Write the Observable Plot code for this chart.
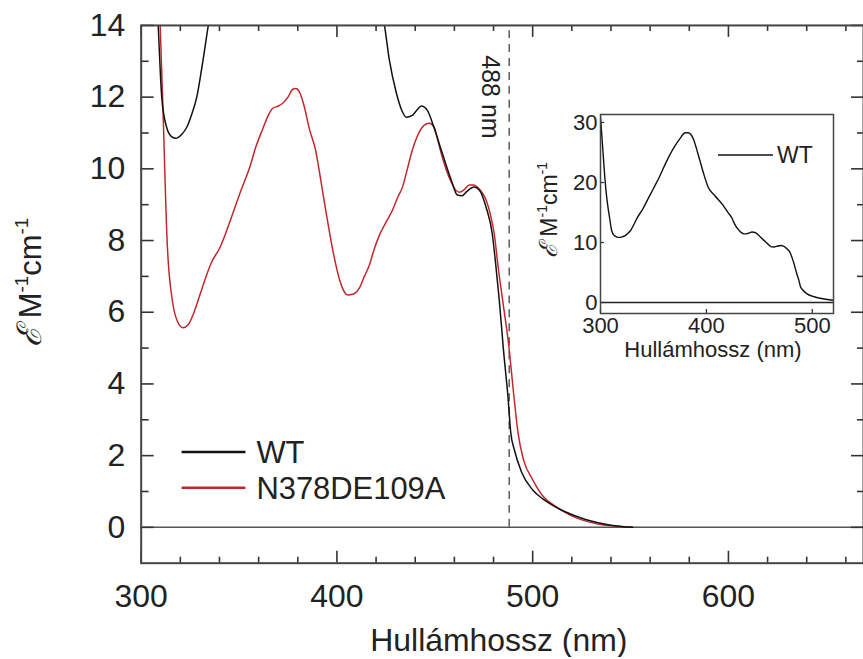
<!DOCTYPE html>
<html><head><meta charset="utf-8">
<script src="https://cdn.jsdelivr.net/npm/d3@7"></script>
<script src="https://cdn.jsdelivr.net/npm/@observablehq/plot@0.6"></script>
<style>
body{margin:0;background:#fff;}
#wrap{position:relative;width:863px;height:659px;overflow:hidden;background:#fff;}
#inset{position:absolute;left:530px;top:90px;}
</style></head><body><div id="wrap"><div id="main"></div><div id="inset"></div></div>
<script>
// ---- data (wavelength nm, molar extinction) ----
const wtNm = [300,302,304,306,308.7,310.5,313,315.5,317.8,320.5,323.3,326,328.4,331.5,334.3,340,345,350,355,362.6,370,375,380,383,387.6,392,397,401.7,408,415.8,420,424.3,426.8,430.4,433,435.5,438.5,441,443.1,446.2,449.7,453.8,458.4,461.5,464,466,470.1,472.7,476.2,479.3,481,483,485,487.5,488.8,490.6,494.4,499.9,505,510,516,527,540,551];
const wtEps = [31.0,26.0,21.0,17.3,14.0,12.0,11.16,10.9,10.85,10.95,11.16,11.55,12.0,13.0,14.0,15.6,17.3,19.0,20.7,23.6,26.0,27.3,28.3,28.3,27.3,24.8,21.7,19.2,17.8,16.2,15.1,14.0,13.03,12.11,11.65,11.44,11.49,11.65,11.75,11.63,11.13,10.44,9.69,9.27,9.25,9.35,9.49,9.41,8.93,8.21,7.4,6.3,5.0,3.56,2.64,2.17,1.53,1.05,0.8,0.62,0.45,0.22,0.06,0];
const mutNm = [307,308.5,309.7,311,313.3,316,318.5,321.4,324,327,331,336,340.2,346.9,351,355.5,358.5,362,365,367.2,370,372.3,375,377.4,379,381,383,386,389.1,392,394.7,398,401.4,404,405.4,408,411.5,414,416.6,419,421.7,424.5,428.4,431,433.5,436,438.5,441,443.6,447.2,449.7,451.5,453.8,456,458.4,460.5,462.5,465,467.6,470,471.7,474,476.2,478.5,480.3,482.5,485,487.5,490.6,492.5,495.3,499.9,505.4,512.7,520,532.8,551];
const mutEps = [18,16,14.0,11.9,7.93,6.3,5.75,5.57,5.65,6.0,6.65,7.4,7.8,8.77,9.4,10.05,10.6,11.1,11.5,11.69,11.75,11.83,12.0,12.22,12.24,12.13,11.8,11.1,10.52,9.6,8.71,7.7,6.9,6.55,6.48,6.5,6.68,7.0,7.32,7.75,8.15,8.45,8.85,9.2,9.49,10.0,10.52,10.9,11.16,11.27,11.16,10.8,10.33,9.95,9.63,9.42,9.35,9.42,9.55,9.55,9.49,9.35,9.13,8.7,8.21,7.2,6.2,5.2,3.56,2.64,1.89,1.34,0.86,0.55,0.32,0.1,0];
const seriesNames = ["WT", "N378DE109A"];
const markerNm = 488;
const markerLabel = "488 nm";
const xMajor = [300,400,500,600];
const xMinor = [320,340,360,380,420,440,460,480,520,540,560,580,620,640,660];
const yMajor = [0,2,4,6,8,10,12,14];
const yMinor = [1,3,5,7,9,11,13];
const insetXTicks = [300,400,500];
const insetYTicks = [0,10,20,30];
const xTitle = "Hullámhossz (nm)";

const FONT = "Arial, 'Liberation Sans', Helvetica, sans-serif";
const RED = "#c0282e", BLK = "#111", TICK = "#333";
const wt = wtNm.map((x,i)=>({x, y: wtEps[i]}));
const mut = mutNm.map((x,i)=>({x, y: mutEps[i]}));

// inward tick helpers (frame width W, height H in px)
function ticksX(vals, len, side, H, sw) {
  return Plot.ruleX(vals, {x: d => d, stroke: TICK, strokeWidth: sw,
    insetTop: side === "bottom" ? H - len : 0, insetBottom: side === "top" ? H - len : 0});
}
function ticksY(vals, len, side, W, sw) {
  return Plot.ruleY(vals, {y: d => d, stroke: TICK, strokeWidth: sw,
    insetRight: side === "left" ? W - len : 0, insetLeft: side === "right" ? W - len : 0});
}

const MW = 865, MH = 659, ML = 141, MR = 0, MT = 25, MB = 95;
const FW = MW - ML - MR, FH = MH - MT - MB;
const main = Plot.plot({
  width: MW, height: MH,
  marginLeft: ML, marginRight: MR, marginTop: MT, marginBottom: MB,
  style: {fontFamily: FONT, fontSize: "32px", background: "white", color: "#222"},
  x: {domain: [300, 669]},
  y: {domain: [-1, 14]},
  marks: [
    Plot.ruleY([0], {stroke: "#555", strokeWidth: 1.5}),
    Plot.ruleX([markerNm], {y1: 0, y2: 13.85, stroke: "#444", strokeDasharray: "8,6", strokeWidth: 1.3}),
    Plot.text([markerNm], {x: d => d, y: () => 14, text: () => markerLabel, rotate: 90, textAnchor: "start", dx: -19, dy: 30, fontSize: 25, fill: "#222"}),
    Plot.line(mut, {x: "x", y: "y", stroke: RED, strokeWidth: 1.5, curve: "monotone-x", clip: true}),
    Plot.line(wt, {x: "x", y: "y", stroke: BLK, strokeWidth: 1.5, curve: "monotone-x", clip: true}),
    ticksX(xMajor, 12, "bottom", FH, 1.6), ticksX(xMinor, 6, "bottom", FH, 1.6),
    ticksX(xMajor, 12, "top", FH, 1.6), ticksX(xMinor, 6, "top", FH, 1.6),
    ticksY(yMajor, 13, "left", FW, 1.6), ticksY(yMinor, 8, "left", FW, 1.6),
    ticksY(yMajor, 12, "right", FW, 1.6), ticksY(yMinor, 6, "right", FW, 1.6),
    Plot.axisX(xMajor, {anchor: "bottom", label: null, tickSize: 0, tickPadding: 21, fontSize: 32}),
    Plot.axisY(yMajor, {anchor: "left", label: null, tickSize: 0, tickPadding: 16, fontSize: 32}),
    Plot.frame({stroke: "#444", strokeWidth: 2})
  ]
});
document.getElementById("main").appendChild(main);

function epsLabel(svg, x, y, size) {
  const t = svg.append("text")
    .attr("transform", `translate(${x},${y}) rotate(-90)`)
    .attr("text-anchor", "middle")
    .attr("font-family", FONT).attr("font-size", size).attr("fill", "#222");
  const sup = Math.round(size * 0.6), up = Math.round(size * 0.42);
  t.append("tspan").attr("font-style", "italic").attr("font-size", Math.round(size * 1.1)).text("ℰ");
  t.append("tspan").text(" M");
  t.append("tspan").attr("font-size", sup).attr("dy", -up).text("-1");
  t.append("tspan").attr("dy", up).text("cm");
  t.append("tspan").attr("font-size", sup).attr("dy", -up).text("-1");
}

const ms = d3.select(main);
epsLabel(ms, 41, 283, 31);
ms.append("text").attr("x", 500).attr("y", 653).attr("text-anchor", "middle")
  .attr("font-family", FONT).attr("font-size", 32).attr("fill", "#222").text(xTitle);
const legendColors = [BLK, RED];
seriesNames.forEach((name, i) => {
  const yy = 453 + i * 36;
  ms.append("line").attr("x1", 182).attr("x2", 246).attr("y1", yy).attr("y2", yy)
    .attr("stroke", legendColors[i]).attr("stroke-width", 2.5);
  ms.append("text").attr("x", 257).attr("y", yy).attr("dy", "0.35em").attr("text-anchor", "start")
    .attr("font-family", FONT).attr("font-size", 31).attr("fill", "#222").text(name);
});

// ---- inset ----
const IW = 310, IH = 275, IL = 70, IR = 7, IT = 24, IB = 52;
const inset = Plot.plot({
  width: IW, height: IH,
  marginLeft: IL, marginRight: IR, marginTop: IT, marginBottom: IB,
  style: {fontFamily: FONT, fontSize: "22px", background: "transparent", color: "#222", overflow: "visible"},
  x: {domain: [300, 520]},
  y: {domain: [-1.83, 31.33]},
  marks: [
    Plot.ruleY([0], {stroke: "#222", strokeWidth: 1.5}),
    Plot.line(wt, {x: "x", y: "y", stroke: BLK, strokeWidth: 1.4, curve: "monotone-x", clip: true}),
    ticksX(insetXTicks, 4, "bottom", IH - IT - IB, 1.3),
    ticksY(insetYTicks, 4, "left", IW - IL - IR, 1.3),
    Plot.axisX(insetXTicks, {anchor: "bottom", label: null, tickSize: 0, tickPadding: 4, fontSize: 22}),
    Plot.axisY(insetYTicks, {anchor: "left", label: null, tickSize: 0, tickPadding: 3, fontSize: 22}),
    Plot.frame({stroke: "#444", strokeWidth: 1.5})
  ]
});
document.getElementById("inset").appendChild(inset);
const is = d3.select(inset);
epsLabel(is, 27, 120, 23);
is.append("text").attr("x", 183).attr("y", 267).attr("text-anchor", "middle")
  .attr("font-family", FONT).attr("font-size", 22).attr("fill", "#222").text(xTitle);
is.append("line").attr("x1", 188).attr("x2", 243).attr("y1", 65).attr("y2", 65)
  .attr("stroke", BLK).attr("stroke-width", 1.5);
is.append("text").attr("x", 247).attr("y", 65).attr("dy", "0.35em").attr("text-anchor", "start")
  .attr("font-family", FONT).attr("font-size", 23).attr("fill", "#222").text(seriesNames[0]);
</script></body></html>
